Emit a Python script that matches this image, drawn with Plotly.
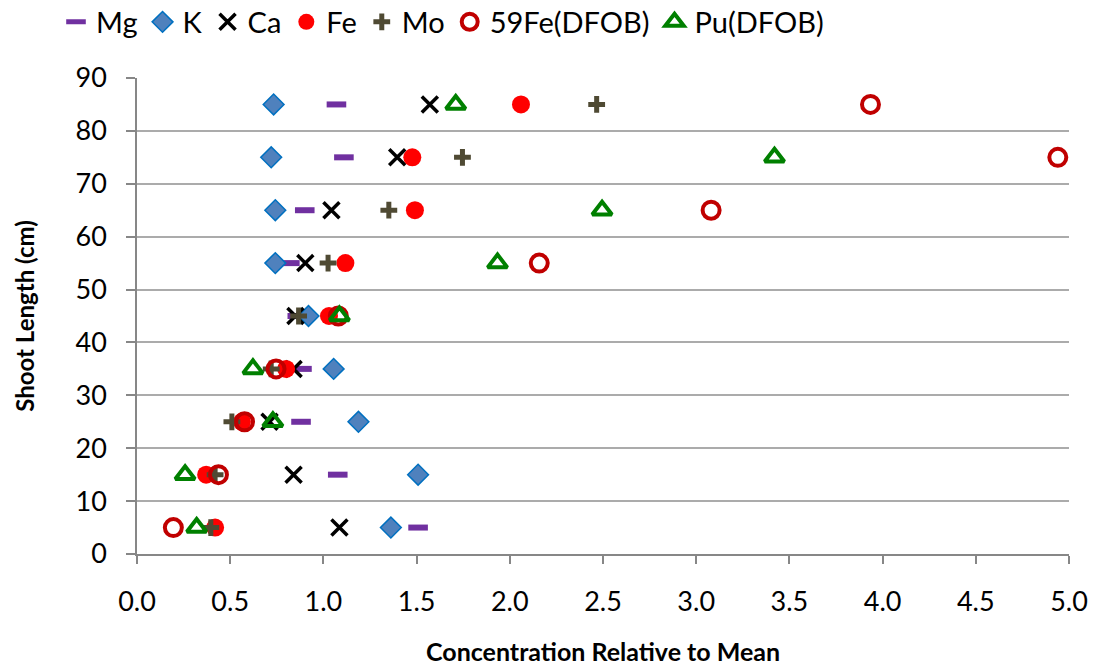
import plotly.graph_objects as go

# Shoot length (cm) for each sampling band
shoot_length = [85, 75, 65, 55, 45, 35, 25, 15, 5]

# Concentration relative to mean, one list per element / tracer
mg = [1.07, 1.11, 0.90, 0.82, 0.86, 0.885, 0.88, 1.077, 1.508]
k = [0.733, 0.72, 0.742, 0.742, 0.92, 1.055, 1.188, 1.508, 1.362]
ca = [1.571, 1.396, 1.043, 0.903, 0.85, 0.84, 0.711, 0.84, 1.086]
fe = [2.06, 1.477, 1.491, 1.118, 1.03, 0.80, 0.563, 0.371, 0.419]
mo = [2.466, 1.746, 1.351, 1.025, 0.867, 0.72, 0.509, 0.419, 0.396]
fe59_dfob = [3.935, 4.94, 3.08, 2.158, 1.08, 0.746, 0.577, 0.437, 0.195]
pu_dfob = [1.71, 3.42, 2.495, 1.934, 1.086, 0.622, 0.729, 0.258, 0.32]

x_ticks = [0.0, 0.5, 1.0, 1.5, 2.0, 2.5, 3.0, 3.5, 4.0, 4.5, 5.0]

FONT = "Lato, 'Open Sans', sans-serif"
AXIS_GREY = "#878787"

series = [
    ("Mg", mg, dict(symbol="line-ew", size=14, color="#7030A0",
                    line=dict(width=6, color="#7030A0"))),
    ("K", k, dict(symbol="diamond", size=16, color="#4F81BD",
                  line=dict(width=1.5, color="#0070C0"))),
    ("Ca", ca, dict(symbol="x-thin", size=16, color="#000000",
                    line=dict(width=3.5, color="#000000"))),
    ("Fe", fe, dict(symbol="circle", size=18, color="#FF0000",
                    line=dict(width=0, color="#FF0000"))),
    ("Mo", mo, dict(symbol="cross-thin", size=12, color="#4F4A33",
                    line=dict(width=5, color="#4F4A33"))),
    ("59Fe(DFOB)", fe59_dfob, dict(symbol="circle-open", size=17, color="#C00000",
                                   line=dict(width=4, color="#C00000"))),
    ("Pu(DFOB)", pu_dfob, dict(symbol="triangle-up-open", size=17, color="#008000",
                               line=dict(width=4, color="#008000"))),
]

fig = go.Figure()
for name, vals, marker in series:
    fig.add_trace(go.Scatter(
        x=vals, y=shoot_length, mode="markers", name=name,
        marker=marker, cliponaxis=False,
    ))

# plot area is 476 px tall; the x-axis title sits ~97 px below the axis line
fig.add_annotation(
    text="<b>Concentration Relative to Mean</b>",
    xref="paper", yref="paper", x=0.5, y=-97 / 476,
    xanchor="center", yanchor="middle", showarrow=False,
    font=dict(family=FONT, size=25, color="#000000"),
)

fig.update_layout(
    width=1093, height=670,
    margin=dict(l=137, r=24, t=78, b=116),
    paper_bgcolor="white", plot_bgcolor="white",
    font=dict(family=FONT, size=27, color="#000000"),
    legend=dict(
        orientation="h", x=56 / 1093, xref="container", y=1 - 22 / 670, yref="container",
        xanchor="left", yanchor="middle",
        font=dict(family=FONT, size=29, color="#000000"),
        itemwidth=30, tracegroupgap=0,
    ),
    xaxis=dict(
        range=[0, 5], tickvals=x_ticks, ticktext=[f"{v:.1f}" for v in x_ticks],
        showgrid=False, zeroline=False, automargin=False,
        showline=True, linecolor=AXIS_GREY, linewidth=1.5,
        ticks="outside", ticklen=8, tickcolor=AXIS_GREY, tickwidth=1.5,
        ticklabelstandoff=15,
        tickfont=dict(family=FONT, size=27),
    ),
    yaxis=dict(
        range=[0, 90], dtick=10, automargin=False,
        showgrid=True, gridcolor="#ABABAB", gridwidth=1.5,
        zeroline=False,
        showline=True, linecolor=AXIS_GREY, linewidth=1.5,
        ticks="outside", ticklen=9, tickcolor=AXIS_GREY, tickwidth=1.5,
        ticklabelstandoff=14,
        tickfont=dict(family=FONT, size=27),
        title=dict(text="<b>Shoot Length (cm)</b>", standoff=34,
                   font=dict(family=FONT, size=24)),
    ),
)

fig.write_html("out.html")
